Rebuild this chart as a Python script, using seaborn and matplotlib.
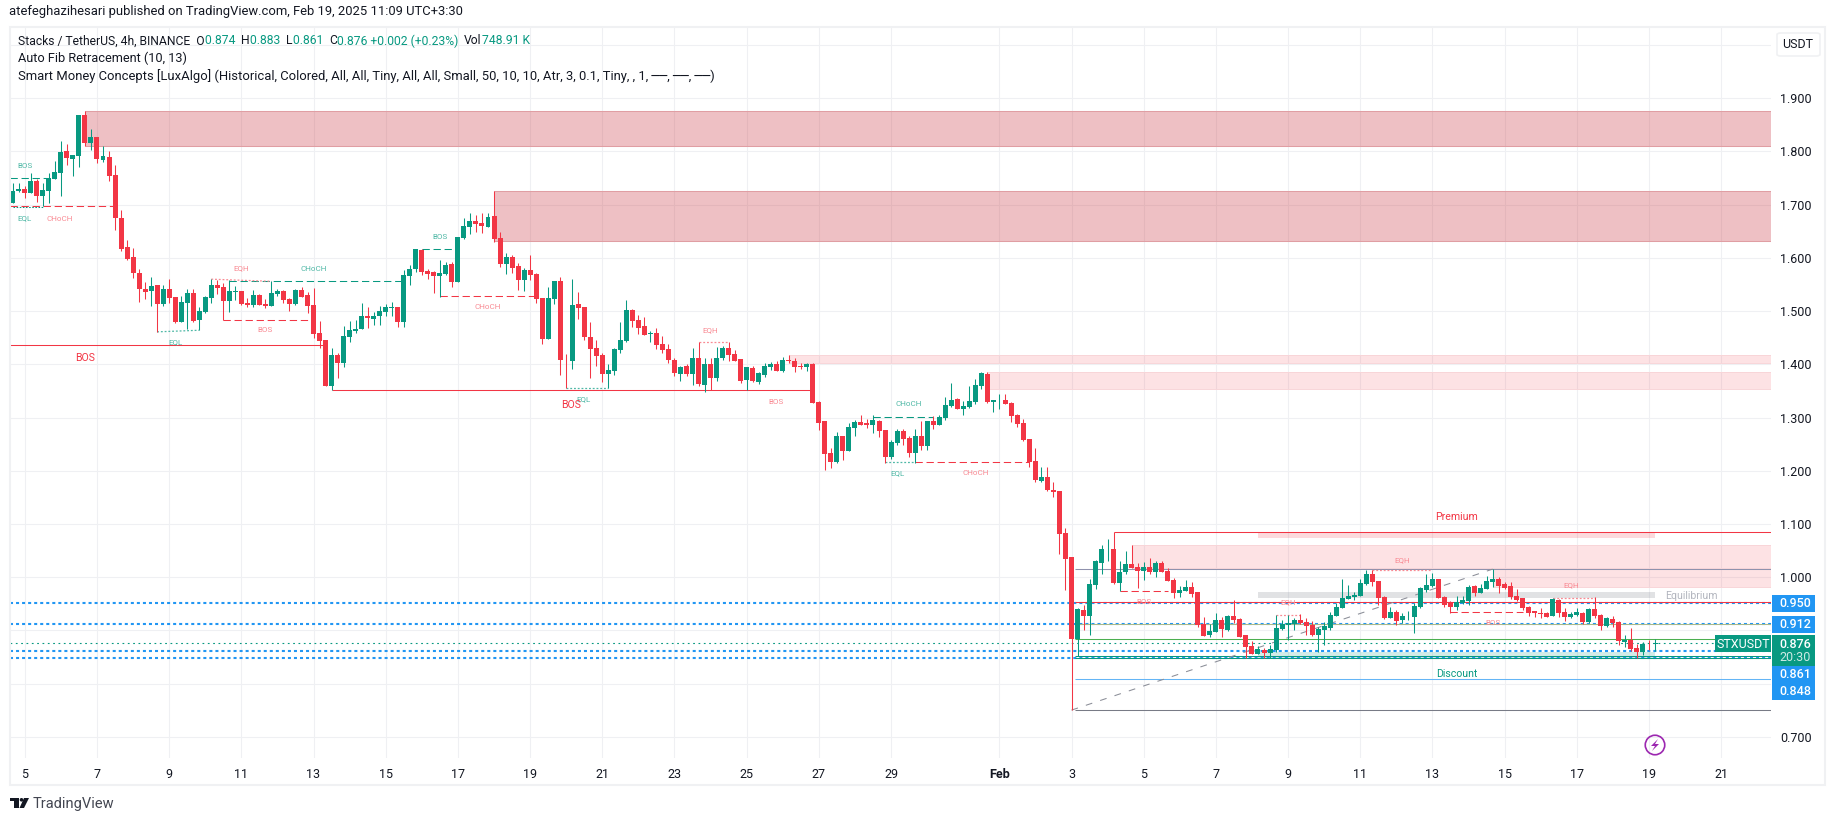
import numpy as np
import pandas as pd
import matplotlib
matplotlib.use('Agg')
import matplotlib.pyplot as plt
import seaborn as sns
from matplotlib.patches import Rectangle, FancyBboxPatch, Ellipse, Polygon

# 4h candles, Jan 4 16:00 onwards
opens = [
    1.703,1.726,1.729,1.722,1.745,1.716,1.726,1.748,1.760,1.801,
    1.786,1.791,1.869,1.816,1.827,1.784,1.790,1.756,1.675,1.620,
    1.602,1.572,1.541,1.538,1.549,1.513,1.541,1.526,1.479,1.515,
    1.534,1.483,1.498,1.525,1.549,1.545,1.519,1.536,1.538,1.515,
    1.511,1.530,1.513,1.510,1.532,1.538,1.523,1.513,1.540,1.530,
    1.511,1.459,1.446,1.359,1.417,1.402,1.451,1.463,1.466,1.491,
    1.485,1.491,1.498,1.506,1.508,1.479,1.566,1.579,1.615,1.575,
    1.573,1.566,1.570,1.589,1.555,1.637,1.658,1.669,1.666,1.658,
    1.679,1.637,1.589,1.602,1.585,1.558,1.577,1.570,1.525,1.448,
    1.523,1.557,1.409,1.406,1.513,1.508,1.451,1.431,1.417,1.382,
    1.387,1.427,1.444,1.502,1.483,1.472,1.457,1.459,1.438,1.429,
    1.408,1.382,1.397,1.382,1.412,1.361,1.400,1.374,
    1.412,1.431,1.419,1.410,
    1.370,1.393,1.367,1.380,1.395,1.401,1.387,1.408,1.406,1.397,
    1.395,1.401,1.329,1.293,1.233,1.216,1.265,1.237,1.280,1.292,
    1.290,1.286,1.293,1.276,1.226,1.252,1.275,1.261,1.233,1.265,
    1.246,1.293,1.286,1.299,1.322,1.335,1.316,1.320,1.329,1.359,
    1.382,1.330,1.332,1.333,1.327,1.305,1.290,1.260,1.218,1.181,
    1.188,1.164,1.162,1.083,1.038,0.884,0.938,0.927,0.985,1.027,
    1.052,1.053,0.989,1.010,1.025,1.019,1.011,1.019,1.010,1.027,
    1.011,0.995,0.970,0.974,0.981,0.972,0.912,0.891,0.897,0.919,
    0.901,0.927,0.921,0.891,0.870,0.855,0.863,0.857,0.863,0.902,
    0.910,0.912,0.919,0.916,0.910,0.891,0.901,0.904,0.927,0.942,
    0.959,0.963,0.964,0.987,1.006,0.993,0.963,0.923,0.934,0.919,
    0.926,0.925,0.944,0.976,0.983,0.996,0.963,0.953,0.944,0.951,
    0.955,0.983,0.970,0.978,0.991,0.996,0.987,0.983,0.964,0.961,
    0.944,0.936,0.933,0.933,0.927,0.957,0.934,0.925,0.929,0.933,
    0.916,0.940,0.929,0.908,0.921,0.916,0.878,0.882,0.867,0.859,
    0.875,0.874,
]
closes = [
    1.726,1.729,1.722,1.745,1.716,1.728,1.750,1.761,1.799,1.788,
    1.793,1.869,1.816,1.827,1.786,1.791,1.754,1.675,1.617,1.598,
    1.572,1.541,1.536,1.547,1.513,1.541,1.525,1.479,1.517,1.534,
    1.481,1.500,1.526,1.549,1.543,1.519,1.538,1.538,1.513,1.511,
    1.530,1.511,1.510,1.534,1.538,1.521,1.513,1.540,1.526,1.510,
    1.457,1.444,1.359,1.417,1.402,1.453,1.464,1.466,1.491,1.487,
    1.491,1.500,1.508,1.508,1.479,1.568,1.579,1.617,1.573,1.570,
    1.566,1.572,1.587,1.555,1.639,1.660,1.669,1.664,1.660,1.677,
    1.635,1.589,1.602,1.581,1.558,1.577,1.568,1.523,1.448,1.525,
    1.557,1.408,1.408,1.511,1.506,1.451,1.429,1.416,1.382,1.389,
    1.429,1.446,1.502,1.481,1.468,1.455,1.459,1.436,1.427,1.408,
    1.384,1.395,1.382,1.412,1.363,1.400,1.374,1.412,
    1.431,1.418,1.406,1.369,
    1.395,1.369,1.384,1.397,1.401,1.387,1.408,1.407,1.395,1.395,
    1.401,1.327,1.290,1.231,1.216,1.265,1.237,1.282,1.292,1.286,
    1.286,1.295,1.275,1.226,1.254,1.275,1.260,1.233,1.265,1.246,
    1.293,1.286,1.301,1.323,1.333,1.316,1.322,1.331,1.361,1.384,
    1.329,1.332,1.333,1.325,1.303,1.288,1.258,1.216,1.183,1.188,
    1.164,1.160,1.081,1.034,0.884,0.940,0.927,0.987,1.030,1.053,
    1.053,0.989,1.010,1.025,1.017,1.011,1.019,1.010,1.027,1.010,
    0.993,0.970,0.976,0.981,0.968,0.910,0.889,0.899,0.919,0.902,
    0.927,0.919,0.887,0.869,0.855,0.865,0.857,0.865,0.904,0.912,
    0.914,0.919,0.914,0.908,0.891,0.902,0.908,0.929,0.944,0.961,
    0.964,0.966,0.989,1.006,0.991,0.961,0.923,0.934,0.917,0.927,
    0.927,0.946,0.980,0.985,0.996,0.961,0.948,0.944,0.953,0.957,
    0.981,0.970,0.980,0.993,0.996,0.983,0.980,0.963,0.957,0.942,
    0.933,0.933,0.931,0.925,0.959,0.933,0.925,0.931,0.934,0.916,
    0.940,0.927,0.908,0.923,0.914,0.880,0.882,0.865,0.859,0.874,
    0.874,0.876,
]
highs = [
    1.741,1.741,1.735,1.759,1.748,1.741,1.759,1.782,1.820,1.814,
    1.793,1.869,1.876,1.842,1.827,1.810,1.801,1.775,1.690,1.634,
    1.619,1.579,1.555,1.564,1.549,1.549,1.560,1.526,1.528,1.541,
    1.541,1.508,1.528,1.560,1.558,1.553,1.558,1.547,1.538,1.525,
    1.540,1.532,1.523,1.556,1.541,1.540,1.525,1.541,1.545,1.536,
    1.543,1.481,1.446,1.431,1.421,1.472,1.481,1.483,1.515,1.508,
    1.498,1.510,1.513,1.517,1.508,1.577,1.587,1.617,1.617,1.579,
    1.575,1.596,1.592,1.592,1.639,1.675,1.684,1.681,1.684,1.684,
    1.726,1.649,1.609,1.605,1.590,1.581,1.605,1.572,1.525,1.545,
    1.557,1.564,1.419,1.560,1.536,1.508,1.479,1.446,1.421,1.400,
    1.431,1.479,1.521,1.504,1.493,1.489,1.462,1.468,1.453,1.438,
    1.412,1.397,1.400,1.431,1.442,1.412,1.412,1.432,
    1.434,1.442,1.427,1.410,
    1.395,1.397,1.386,1.402,1.404,1.406,1.414,1.418,1.412,1.402,
    1.402,1.402,1.331,1.293,1.243,1.273,1.265,1.290,1.295,1.305,
    1.297,1.305,1.295,1.276,1.258,1.278,1.278,1.265,1.278,1.293,
    1.293,1.303,1.305,1.339,1.365,1.337,1.331,1.359,1.372,1.386,
    1.386,1.333,1.344,1.344,1.329,1.307,1.297,1.260,1.243,1.207,
    1.207,1.179,1.162,1.092,1.038,0.942,0.948,0.996,1.032,1.060,
    1.072,1.084,1.030,1.049,1.060,1.026,1.028,1.036,1.030,1.030,
    1.017,0.998,0.983,0.995,0.991,0.972,0.925,0.912,0.933,0.925,
    0.929,0.957,0.923,0.891,0.880,0.870,0.867,0.872,0.929,0.919,
    0.929,0.923,0.931,0.923,0.917,0.906,0.916,0.934,0.951,0.996,
    0.985,0.972,0.996,1.013,1.013,0.993,0.964,0.944,0.938,0.933,
    0.936,0.951,0.981,1.006,1.008,0.996,0.964,0.955,0.964,0.964,
    0.985,0.985,0.987,1.002,1.015,1.000,0.991,0.991,0.978,0.961,
    0.946,0.936,0.942,0.934,0.961,0.959,0.942,0.934,0.942,0.934,
    0.942,0.963,0.931,0.925,0.927,0.917,0.891,0.904,0.874,0.878,
    0.882,0.883,
]
lows = [
    1.703,1.724,1.713,1.722,1.705,1.697,1.703,1.748,1.716,1.775,
    1.754,1.771,1.810,1.803,1.778,1.780,1.745,1.652,1.613,1.596,
    1.562,1.517,1.523,1.510,1.461,1.510,1.515,1.478,1.479,1.466,
    1.479,1.464,1.496,1.515,1.532,1.484,1.498,1.521,1.511,1.508,
    1.508,1.511,1.506,1.510,1.528,1.515,1.500,1.511,1.526,1.496,
    1.449,1.431,1.359,1.351,1.374,1.395,1.442,1.459,1.466,1.468,
    1.474,1.474,1.491,1.491,1.470,1.470,1.549,1.573,1.568,1.560,
    1.534,1.527,1.568,1.545,1.555,1.635,1.645,1.649,1.647,1.658,
    1.630,1.583,1.570,1.572,1.540,1.538,1.558,1.515,1.438,1.448,
    1.513,1.380,1.355,1.391,1.485,1.446,1.374,1.397,1.367,1.355,
    1.380,1.421,1.442,1.470,1.457,1.455,1.442,1.429,1.421,1.402,
    1.378,1.369,1.378,1.361,1.359,1.348,1.351,1.369,
    1.408,1.406,1.406,1.365,
    1.352,1.367,1.363,1.376,1.389,1.387,1.386,1.402,1.386,1.391,
    1.387,1.327,1.276,1.201,1.205,1.214,1.220,1.237,1.265,1.286,
    1.280,1.271,1.263,1.214,1.222,1.248,1.248,1.226,1.214,1.239,
    1.239,1.278,1.286,1.295,1.320,1.316,1.305,1.318,1.325,1.354,
    1.327,1.310,1.316,1.325,1.292,1.282,1.256,1.207,1.179,1.179,
    1.162,1.151,1.043,0.976,0.750,0.852,0.901,0.891,0.978,1.006,
    1.030,0.987,0.974,1.006,1.017,0.979,0.995,1.006,1.000,1.010,
    0.993,0.961,0.963,0.974,0.963,0.906,0.889,0.887,0.897,0.887,
    0.899,0.914,0.887,0.848,0.855,0.855,0.848,0.848,0.859,0.901,
    0.882,0.901,0.912,0.891,0.889,0.859,0.872,0.901,0.927,0.942,
    0.959,0.957,0.964,0.985,0.983,0.948,0.921,0.923,0.910,0.914,
    0.919,0.895,0.942,0.972,0.981,0.961,0.944,0.933,0.938,0.949,
    0.948,0.964,0.970,0.978,0.981,0.970,0.978,0.959,0.955,0.938,
    0.927,0.925,0.923,0.925,0.927,0.925,0.917,0.923,0.927,0.912,
    0.914,0.923,0.901,0.906,0.906,0.872,0.869,0.861,0.848,0.854,
    0.863,0.861,
]
first_candle = -2

# date axis, positions counted in candles from Jan 5
date_ticks = [0,12,24,36,48,60,72,84,96,108,120,132,144,162,174,186,198,210,222,234,246,258,270,282]
date_labels = ['5','7','9','11','13','15','17','19','21','23','25','27','29','Feb',
               '3','5','7','9','11','13','15','17','19','21']
price_ticks = [0.7,0.8,0.9,1.0,1.1,1.2,1.3,1.4,1.5,1.6,1.7,1.8,1.9,2.0]
price_labels = ['0.700','','','1.000','1.100','1.200','1.300','1.400','1.500','1.600','1.700','1.800','1.900','']

# supply zones: start candle, top, bottom
strong_zones = [(10,1.876,1.811),(78,1.726,1.632)]
light_zones = [(127,1.4175,1.402),(160,1.3855,1.3536),(184,1.060,1.017),(244,1.015,0.982)]
# premium / equilibrium / discount bands, candle 205 to 271
premium_band = (1.084,1.074)
equil_band = (0.972,0.961)
discount_band = (0.859,0.848)

# fib levels from the Feb 3 low
fib_levels = [1.0146,0.9525,0.9124,0.883,0.8508,0.8472,0.808,0.750]
fib_colors = ['#8f92ad','#f23645','#a9b98a','#4caf50','#089981','#089981','#64b5f6','#787b86']
fib_start = 174
fib_trend_x = [174,244]
fib_trend_y = [0.750,1.015]
blue_levels = [0.9515,0.912,0.861,0.848]
last_price = 0.876

# structure lines: start, end, price, colour key, style key
struct_lines = [
    (-2.5,4,1.7496,'g','dash'),(-2.5,14.7,1.697,'r','dash'),(-2,3,1.696,'g','dot'),
    (34,63,1.557,'g','dash'),(33,47,1.484,'r','dash'),(66,72,1.616,'g','dash'),
    (69,85,1.528,'r','dash'),(141,151,1.301,'g','dash'),(148,167,1.2157,'r','dash'),
    (182,190,0.974,'r','dash'),(237,249,0.934,'r','dash'),
    (-2.5,50,1.437,'r','solid'),(51,131,1.351,'r','solid'),(181,300,1.084,'r','solid'),
]
eq_lines = [
    (31,41,1.560,1.556,'r'),(22,29,1.461,1.464,'g'),(90,97,1.355,1.355,'g'),
    (112,117,1.441,1.441,'r'),(143,148,1.2157,1.2157,'g'),(208,212,0.929,0.929,'r'),
    (224,234,1.013,1.013,'r'),(254,261,0.961,0.961,'r'),
]
small_labels = [
    ('BOS',0,1.772,'g'),('EQL',0,1.674,'g'),('CHoCH',5.8,1.674,'r'),('EQH',36,1.580,'r'),
    ('CHoCH',48,1.580,'g'),('BOS',40,1.464,'r'),('EQL',25,1.441,'g'),('BOS',69,1.640,'g'),
    ('CHoCH',77,1.507,'r'),('EQL',92.8,1.334,'g'),('EQH',114,1.464,'r'),('BOS',124.9,1.330,'r'),
    ('CHoCH',147,1.326,'g'),('EQL',145,1.195,'g'),('CHoCH',158,1.195,'r'),('BOS',186,0.9525,'r'),
    ('EQH',210,0.9525,'r'),('EQH',229,1.031,'r'),('BOS',244,0.913,'r'),('EQH',257,0.984,'r'),
]
big_labels = [('BOS',10,1.411,'#f23645'),('BOS',90.8,1.3235,'#f23645'),('Premium',238,1.1136,'#f23645'),
              ('Equilibrium',277,0.9645,'#b2b5be'),('Discount',238,0.8185,'#089981')]

GREEN = '#089981'
RED = '#f23645'
BLUE = '#2196f3'
GRID = '#eff0f3'
TEXT = '#131722'
W, H = 1835, 821

sns.set_theme(style='white')
plt.rcParams['font.family'] = ['Roboto', 'DejaVu Sans']

df = pd.DataFrame({'open': opens, 'high': highs, 'low': lows, 'close': closes})
df['idx'] = np.arange(len(df)) + first_candle
df['body'] = (df['close'] - df['open']).abs()
df['bottom'] = df[['open', 'close']].min(axis=1)
up = df[df['close'] >= df['open']]
down = df[df['close'] < df['open']]

fig = plt.figure(figsize=(W / 100, H / 100), dpi=100, facecolor='white')
ax = fig.add_axes([10 / W, (H - 758) / H, 1761 / W, 731 / H])
xmin, xmax = -2.46, 290.28

# candles
for part, col in ((up, GREEN), (down, RED)):
    ax.vlines(part['idx'], part['low'], part['high'], color=col, lw=0.75, zorder=4)
    sns.barplot(data=part, x='idx', y='body', bottom=part['bottom'].to_numpy(), native_scale=True,
                color=col, saturation=1, width=0.83, errorbar=None, linewidth=0, zorder=5, ax=ax)

# zones
for start, top, bot in strong_zones:
    ax.add_patch(Rectangle((start, bot), xmax - start, top - bot, facecolor='#c9303c', alpha=0.3, lw=0, zorder=1))
    ax.hlines([top, bot], start, xmax, color='#e09ea3', lw=0.75, zorder=1.1)
for start, top, bot in light_zones:
    ax.add_patch(Rectangle((start, bot), xmax - start, top - bot, facecolor=RED, alpha=0.14, lw=0, zorder=1))
    ax.hlines([top, bot], start, xmax, color='#f8d5d8', lw=0.7, zorder=1.1)
for band, col, al in ((premium_band, RED, 0.18), (equil_band, '#787b86', 0.22), (discount_band, GREEN, 0.18)):
    ax.add_patch(Rectangle((205, band[1]), 66, band[0] - band[1], facecolor=col, alpha=al, lw=0, zorder=1))

# blue dotted levels and price line
for lev in blue_levels:
    ax.hlines(lev, xmin, xmax, color=BLUE, lw=1.5, linestyles=[(0, (1.45, 1.45))], capstyle='butt', zorder=1.5)
ax.hlines(last_price, xmin, xmax, color=GREEN, lw=0.8, linestyles=[(0, (1.6, 3.2))], capstyle='butt', zorder=1.6)

# fib retracement
for lev, col in zip(fib_levels, fib_colors):
    ax.hlines(lev, fib_start + 0.5, xmax, color=col, lw=0.75, zorder=2)
ax.plot(fib_trend_x, fib_trend_y, color='#8a8d97', lw=0.75, dashes=(6.5, 8), zorder=2)

# market structure
pal = {'g': GREEN, 'r': RED}
pal_light = {'g': '#4fb8a6', 'r': '#f98a93'}
for x0, x1, y, key, style in struct_lines:
    ls = {'dash': (0, (7, 3.6)), 'dot': (0, (1.5, 1.5)), 'solid': '-'}[style]
    ax.hlines(y, x0, min(x1, xmax), color=pal[key], lw=0.75, linestyles=[ls], capstyle='butt', zorder=3)
for x0, x1, y0, y1, key in eq_lines:
    ax.plot([x0, x1], [y0, y1], color=pal_light[key], lw=0.9, dashes=(1.5, 1.5), zorder=3)
for name, x, y, key in small_labels:
    ax.text(x, y, name, color=pal_light[key], fontsize=5.8, ha='center', va='center', zorder=6)
for name, x, y, col in big_labels:
    ax.text(x, y, name, color=col, fontsize=7.6, ha='center', va='center', zorder=6)

# axes
ax.set_xlim(xmin, xmax)
ax.set_ylim(0.660, 2.034)
ax.set_xticks(date_ticks)
ax.set_xticklabels(date_labels, fontsize=9, color=TEXT)
ax.get_xticklabels()[date_labels.index('Feb')].set_fontweight('bold')
ax.set_yticks(price_ticks)
ax.set_yticklabels(price_labels, fontsize=9, color=TEXT)
ax.yaxis.tick_right()
ax.tick_params(axis='x', length=0, pad=7)
ax.tick_params(axis='y', length=0, pad=6.5)
ax.set_xlabel('')
ax.set_ylabel('')
ax.grid(True, color=GRID, lw=0.75, zorder=0)
ax.set_axisbelow(True)
for sp in ax.spines.values():
    sp.set_visible(False)
ax.patch.set_alpha(0)


def px_text(x, y, s, **kw):
    return fig.text(x / W, 1 - y / H, s, va='center', **kw)


def px_rect(x0, y0, x1, y1, **kw):
    fig.add_artist(Rectangle((x0 / W, 1 - y1 / H), (x1 - x0) / W, (y1 - y0) / H,
                             transform=fig.transFigure, **kw))


def px_circle(x, y, d, **kw):
    fig.add_artist(Ellipse((x / W, 1 - y / H), d / W, d / H, transform=fig.transFigure, **kw))


# outer frame
px_rect(10, 27, 1825, 785, fill=False, edgecolor='#f0f1f3', lw=1.5)
px_text(9, 12, 'atefeghazihesari published on TradingView.com, Feb 19, 2025 11:09 UTC+3:30',
        fontsize=9.4, color=TEXT)

# legend rows
rend = fig.canvas.get_renderer()
x = 18
for s, col in [('Stacks / TetherUS, 4h, BINANCE  O', TEXT), ('0.874  ', GREEN), ('H', TEXT), ('0.883  ', GREEN),
               ('L', TEXT), ('0.861  ', GREEN), ('C', TEXT), ('0.876 +0.002 (+0.23%)  ', GREEN),
               ('Vol', TEXT), ('748.91 K', GREEN)]:
    t = px_text(x, 41, s.replace(' ', '\u00a0'), fontsize=8.7, color=col)
    x = t.get_window_extent(rend).x1
px_text(18, 58, 'Auto Fib Retracement (10, 13)', fontsize=9.2, color=TEXT)
px_text(18, 76, 'Smart Money Concepts [LuxAlgo] (Historical, Colored, All, All, Tiny, All, All, Small, 50, 10, 10, '
        'Atr, 3, 0.1, Tiny, , 1, ──, ──, ──)', fontsize=9.4, color=TEXT)

# currency button
fig.add_artist(FancyBboxPatch((1777 / W, 1 - 56 / H), 43 / W, 23 / H, boxstyle='round,pad=0,rounding_size=0.002',
                              transform=fig.transFigure, facecolor='white', edgecolor='#f0f1f3', lw=1.2))
px_text(1798, 44, 'USDT', fontsize=9, color=TEXT, ha='center')

# price tags on the axis
for y0, y1, s in [(595, 612, '0.950'), (616, 633, '0.912'), (666, 683, '0.861'), (683, 700, '0.848')]:
    px_rect(1772, y0, 1815, y1, facecolor=BLUE, lw=0, zorder=8)
    px_text(1795, (y0 + y1) / 2, s, fontsize=9, color='white', ha='center', zorder=9, fontweight='medium')
px_rect(1772, 635, 1815, 666, facecolor=GREEN, lw=0, zorder=8)
px_text(1795, 644, '0.876', fontsize=9, color='white', ha='center', zorder=9, fontweight='medium')
px_text(1795, 657, '20:30', fontsize=9, color='#cdeae5', ha='center', zorder=9)
px_rect(1715, 635, 1771, 652, facecolor=GREEN, lw=0, zorder=8)
px_text(1743, 644, 'STXUSDT', fontsize=9, color='white', ha='center', zorder=9)

# lightning marker
px_circle(1655, 745, 19.5, fill=False, edgecolor='#9c27b0', lw=1.2)
fig.add_artist(Polygon([[p[0] / W, 1 - p[1] / H] for p in
                        [(1658, 739), (1651, 746), (1655, 746), (1652, 751), (1659, 744), (1655, 744)]],
                       transform=fig.transFigure, facecolor='#9c27b0', lw=0))

# logo
px_rect(10, 798, 19, 801, facecolor=TEXT, lw=0)
px_rect(14, 798, 19, 808, facecolor=TEXT, lw=0)
px_circle(21.5, 799.8, 3.6, facecolor=TEXT, lw=0)
fig.add_artist(Polygon([[p[0] / W, 1 - p[1] / H] for p in [(24, 798), (29, 798), (24, 808), (19.5, 808)]],
                       transform=fig.transFigure, facecolor=TEXT, lw=0))
px_text(33, 804, 'TradingView', fontsize=10.5, color='#434651')

fig.savefig('out.png', dpi=100)
